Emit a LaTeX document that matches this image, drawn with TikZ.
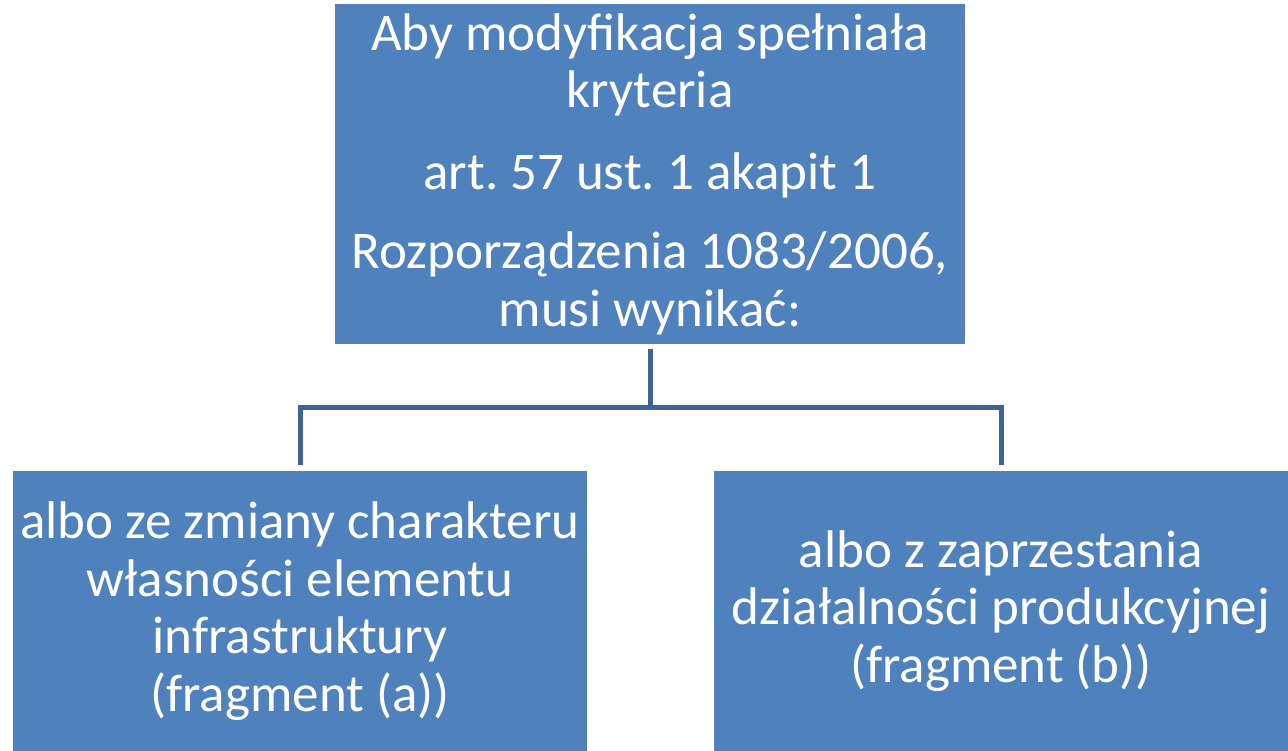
\documentclass[tikz,border=0pt]{standalone}
\usepackage{fontspec}
\setmainfont{Carlito}
\definecolor{boxblue}{HTML}{4F81BD}
\definecolor{linkblue}{HTML}{3D6494}
\begin{document}
\frenchspacing
\begin{tikzpicture}[x=1pt,y=-1pt,
  box/.style={fill=boxblue, draw=none, text=white, align=center,
    font=\fontsize{53}{57.5}\selectfont, inner sep=0pt},
  link/.style={draw=linkblue, line width=5pt, line join=miter}]
\useasboundingbox (0,0) rectangle (1288,751);
\fill[white] (0,0) rectangle (1288,751);
\node[box, minimum width=630pt, minimum height=340pt] (top) at (650,174)
  {Aby modyfikacja spełniała\\ kryteria\\[24pt] art. 57 ust. 1 akapit 1\\[22pt] Rozporządzenia 1083/2006,\\ musi wynikać:};
\node[box, minimum width=574pt, minimum height=280pt] (bl) at (300,611)
  {albo ze zmiany charakteru\\ własności elementu\\ infrastruktury\\ (fragment (a))};
\node[box, minimum width=574pt, minimum height=280pt] (br) at (1001,611)
  {albo z zaprzestania\\ działalności produkcyjnej\\ (fragment (b))};
\coordinate (j) at (650,407);
\draw[link] ([yshift=-5pt]top.south) -- (j);
\draw[link] ([yshift=6pt]bl.north) -- (bl.north |- j) -- (br.north |- j) -- ([yshift=6pt]br.north);
\end{tikzpicture}
\end{document}
